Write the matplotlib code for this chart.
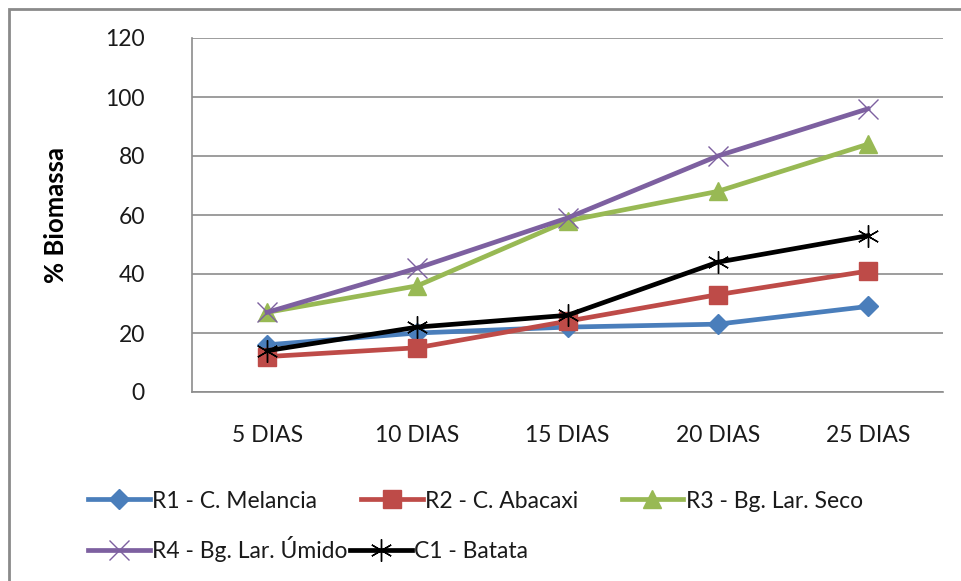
import matplotlib.pyplot as plt
from matplotlib.patches import Rectangle

dias = ['5 DIAS', '10 DIAS', '15 DIAS', '20 DIAS', '25 DIAS']
r1_melancia = [16, 20, 22, 23, 29]
r2_abacaxi = [12, 15, 24, 33, 41]
r3_seco = [27, 36, 58, 68, 84]
r4_umido = [27, 42, 59, 80, 96]
c1_batata = [14, 22, 26, 44, 53]

yticks = [0, 20, 40, 60, 80, 100, 120]

plt.rcParams['font.family'] = ['Lato', 'DejaVu Sans']

fig = plt.figure(figsize=(9.62, 5.81), dpi=100)
ax = fig.add_axes([192/962, 1-392/581, (943-192)/962, (392-38)/581])

x = range(len(dias))
lw = 3.4
h1, = ax.plot(x, r1_melancia, color='#4a7ebb', lw=lw, marker='D', ms=10, label='R1 - C. Melancia')
h2, = ax.plot(x, r2_abacaxi, color='#be4b48', lw=lw, marker='s', ms=12.5, label='R2 - C. Abacaxi')
h3, = ax.plot(x, r3_seco, color='#98b954', lw=lw, marker='^', ms=13.5, label='R3 - Bg. Lar. Seco')
h4, = ax.plot(x, r4_umido, color='#7d60a0', lw=lw, marker='x', ms=15, mew=1,
              label='R4 - Bg. Lar. Úmido')
h5, = ax.plot(x, c1_batata, color='black', lw=lw, marker=(6, 2, 0), ms=16, mew=1,
              label='C1 - Batata')

ax.set_xlim(-0.5, len(dias) - 0.5)
ax.set_ylim(0, 120)
ax.set_yticks(yticks)
ax.set_xticks(list(x))
ax.set_xticklabels(dias)
ax.tick_params(axis='both', length=0, labelsize=16.5, colors='#1a1a1a')
ax.tick_params(axis='y', pad=34)
ax.tick_params(axis='x', pad=24)
ax.grid(axis='y', color='#8c8c8c', lw=1.2)
ax.set_axisbelow(True)
for s in ['top', 'right']:
    ax.spines[s].set_visible(False)
ax.spines['left'].set_color('#8c8c8c')
ax.spines['bottom'].set_color('#8c8c8c')
ax.spines['left'].set_linewidth(1.2)
ax.spines['bottom'].set_linewidth(1.2)

ax.set_ylabel('% Biomassa', fontsize=18.5, fontweight='bold')
ax.yaxis.set_label_coords(-0.165, 0.5)

# legend rows like the spreadsheet layout
leg_kw = dict(frameon=False, fontsize=16.5, handlelength=2.7, handletextpad=0.1,
              borderaxespad=0, borderpad=0)
leg1 = fig.legend(handles=[h1, h2, h3], ncol=3, loc='center left',
                  bbox_to_anchor=(88/962, 1-501/581), columnspacing=1.9, **leg_kw)
leg2 = fig.legend(handles=[h4, h5], ncol=2, loc='center left',
                  bbox_to_anchor=(88/962, 1-549/581), columnspacing=0.1, **leg_kw)
for leg in (leg1, leg2):
    for t in leg.get_texts():
        t.set_color('#1a1a1a')

# outer chart border
fig.add_artist(Rectangle((9/962, -0.5), 2, 1.5 - 9/581, transform=fig.transFigure,
                         fill=False, edgecolor='#8a8a8a', lw=2))

fig.savefig('out.png', dpi=100)
